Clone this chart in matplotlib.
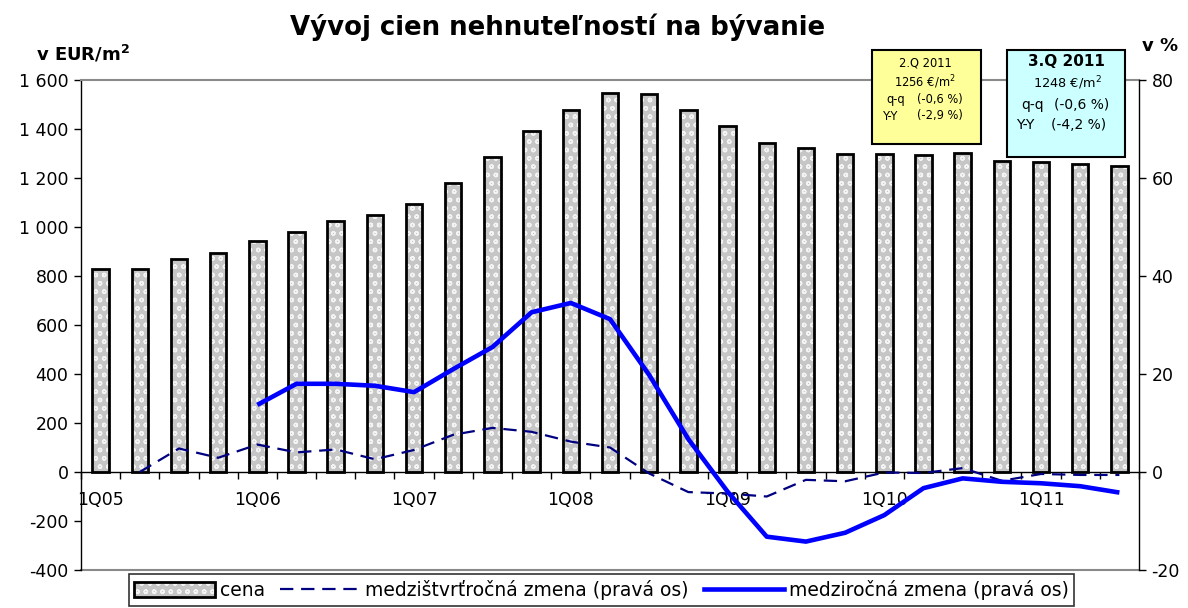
import matplotlib
matplotlib.use('Agg')
import matplotlib.pyplot as plt
import numpy as np
from matplotlib.patches import Patch, Rectangle
from matplotlib.lines import Line2D
from matplotlib.legend_handler import HandlerTuple
from matplotlib.ticker import FuncFormatter

quarters = ['1Q05', '2Q05', '3Q05', '4Q05', '1Q06', '2Q06', '3Q06', '4Q06',
            '1Q07', '2Q07', '3Q07', '4Q07', '1Q08', '2Q08', '3Q08', '4Q08',
            '1Q09', '2Q09', '3Q09', '4Q09', '1Q10', '2Q10', '3Q10', '4Q10',
            '1Q11', '2Q11', '3Q11']
price = [830, 828, 870, 895, 944, 978, 1024, 1049, 1095, 1179, 1285, 1390,
         1476, 1548, 1543, 1477, 1413, 1343, 1322, 1298, 1296, 1292, 1304,
         1270, 1265, 1256, 1248]
qoq = [np.nan, 0.0, 4.8, 2.9, 5.6, 4.0, 4.6, 2.6, 4.5, 7.6, 9.0, 8.2, 6.2,
       5.0, -0.3, -4.1, -4.4, -5.0, -1.6, -1.9, -0.1, -0.2, 0.8, -1.8, -0.4,
       -0.6, -0.6]
yoy = [np.nan, np.nan, np.nan, np.nan, 13.7, 18.0, 18.0, 17.6, 16.3, 21.0,
       25.5, 32.6, 34.5, 31.2, 19.8, 6.7, -4.0, -13.2, -14.2, -12.4, -8.8,
       -3.3, -1.3, -2.0, -2.3, -2.9, -4.2]
label_quarters = ['1Q05', '1Q06', '1Q07', '1Q08', '1Q09', '1Q10', '1Q11']

title = 'Vývoj cien nehnuteľností na bývanie'
left_label = 'v EUR/m$^\\mathbf{2}$'
right_label = 'v %'
legend_labels = ['cena', 'medzištvrťročná zmena (pravá os)',
                 'medziročná zmena (pravá os)']
box1_lines = ['2.Q 2011', '1256 €/m$^2$', 'q-q', '(-0,6 %)', 'Y-Y', '(-2,9 %)']
box2_lines = ['3.Q 2011', '1248 €/m$^2$', 'q-q', '(-0,6 %)', 'Y-Y', '(-4,2 %)']

plt.rcParams['font.family'] = ['DejaVu Sans']
plt.rcParams['hatch.linewidth'] = 1.0
plt.rcParams['axes.unicode_minus'] = False
plt.rcParams['mathtext.default'] = 'regular'

W, H = 1188, 608
fig = plt.figure(figsize=(W / 100, H / 100), dpi=100)
fig.patch.set_facecolor('white')


def fx(px):
    return px / W


def fy(py):
    return 1 - py / H


ax = fig.add_axes([fx(81), fy(570), fx(1139) - fx(81), fy(80) - fy(570)])
x = np.arange(len(quarters))

bar_face = '#c6c6c6'
ax.bar(x, price, width=0.42, color=bar_face, edgecolor='#f4f4f4', hatch='oo',
       linewidth=0, zorder=2)
ax.bar(x, price, width=0.42, facecolor='none', edgecolor='black',
       linewidth=2, zorder=3)
ax.set_xlim(-0.5, len(quarters) - 0.5)
ax.set_ylim(-400, 1600)

ax2 = ax.twinx()
ax2.set_ylim(-20, 80)
ax2.plot(x, qoq, color='#000080', lw=1.6, dashes=(6, 3.5), zorder=4)
ax2.plot(x, yoy, color='#0000ff', lw=3.3, solid_joinstyle='round',
         solid_capstyle='butt', zorder=5)

# spines
for s in ['top', 'bottom', 'left', 'right']:
    ax2.spines[s].set_visible(s == 'right')
ax2.spines['right'].set_color('black')
ax2.spines['right'].set_linewidth(1.0)
ax.spines['right'].set_visible(False)
ax.spines['top'].set_color('#8a8a8a')
ax.spines['top'].set_linewidth(1.5)
ax.spines['left'].set_color('black')
ax.spines['left'].set_linewidth(1.0)
ax.spines['bottom'].set_position(('data', 0))
ax.spines['bottom'].set_color('black')
ax.spines['bottom'].set_linewidth(1.0)
ax.plot([0, 1], [0, 0], transform=ax.transAxes, color='#8a8a8a', lw=1.5,
        clip_on=False, zorder=1)

# x ticks: marks at category boundaries, labels at first quarters
ax.set_xticks(np.arange(-0.5, len(quarters), 1.0))
ax.set_xticklabels([])
ax.tick_params(axis='x', which='major', direction='out', length=5,
               width=1, color='black')
lab_pos = [quarters.index(q) for q in label_quarters]
ax.set_xticks(lab_pos, minor=True)
ax.set_xticklabels(label_quarters, minor=True)
ax.tick_params(axis='x', which='minor', length=0, pad=14, labelsize=12.5)

# y ticks
ax.set_yticks(np.arange(-400, 1601, 200))
ax.yaxis.set_major_formatter(FuncFormatter(
    lambda v, p: f'{int(v):,}'.replace(',', ' ')))
ax.tick_params(axis='y', direction='out', length=5, width=1, labelsize=12.5,
               pad=4)
ax2.set_yticks(np.arange(-20, 81, 20))
ax2.tick_params(axis='y', direction='out', length=5, width=1, labelsize=12.5,
                pad=4)

# titles
fig.text(fx(558), fy(27), title, ha='center', va='center', fontsize=18.7,
         fontweight='bold')
fig.text(fx(36), fy(54), left_label, ha='left', va='center', fontsize=13,
         fontweight='bold')
fig.text(fx(1160), fy(46), right_label, ha='center', va='center',
         fontsize=13, fontweight='bold')

# info boxes
fig.patches.append(Rectangle((fx(872), fy(144)), fx(981) - fx(872),
                             fy(50) - fy(144), transform=fig.transFigure,
                             facecolor='#ffff99', edgecolor='black', lw=1.5,
                             zorder=6))
fig.patches.append(Rectangle((fx(1007), fy(157)), fx(1125) - fx(1007),
                             fy(50) - fy(157), transform=fig.transFigure,
                             facecolor='#ccffff', edgecolor='black', lw=1.5,
                             zorder=6))
fs1 = 8.3
fig.text(fx(925), fy(63), box1_lines[0], ha='center', va='center',
         fontsize=fs1, zorder=7)
fig.text(fx(925), fy(82), box1_lines[1], ha='center', va='center',
         fontsize=fs1, zorder=7)
fig.text(fx(886), fy(100), box1_lines[2], ha='left', va='center',
         fontsize=fs1, zorder=7)
fig.text(fx(917), fy(100), box1_lines[3], ha='left', va='center',
         fontsize=fs1, zorder=7)
fig.text(fx(883), fy(116), box1_lines[4], ha='left', va='center',
         fontsize=fs1, zorder=7)
fig.text(fx(917), fy(116), box1_lines[5], ha='left', va='center',
         fontsize=fs1, zorder=7)
fs2 = 10
fig.text(fx(1066), fy(62), box2_lines[0], ha='center', va='center',
         fontsize=11, fontweight='bold', zorder=7)
fig.text(fx(1067), fy(83), box2_lines[1], ha='center', va='center',
         fontsize=9.3, zorder=7)
fig.text(fx(1021), fy(105), box2_lines[2], ha='left', va='center',
         fontsize=fs2, zorder=7)
fig.text(fx(1054), fy(105), box2_lines[3], ha='left', va='center',
         fontsize=fs2, zorder=7)
fig.text(fx(1016), fy(125), box2_lines[4], ha='left', va='center',
         fontsize=fs2, zorder=7)
fig.text(fx(1051), fy(125), box2_lines[5], ha='left', va='center',
         fontsize=fs2, zorder=7)

# legend
bar_h = (Patch(facecolor=bar_face, edgecolor='#f4f4f4', hatch='oo', lw=0),
         Patch(facecolor='none', edgecolor='black', lw=2))
h_qoq = Line2D([], [], color='#000080', lw=1.6, dashes=(6, 3.5))
h_yoy = Line2D([], [], color='#0000ff', lw=3.3)
leg = fig.legend([bar_h, h_qoq, h_yoy], legend_labels, loc='center',
                 bbox_to_anchor=(fx(601.5), fy(590)), ncol=3, fontsize=13.5,
                 frameon=True, fancybox=False, edgecolor='black',
                 handlelength=4.3, handleheight=0.8, handletextpad=0.25,
                 columnspacing=0.8, borderpad=0.3, borderaxespad=0,
                 handler_map={tuple: HandlerTuple(ndivide=1)})
leg.get_frame().set_linewidth(1.2)

fig.savefig('out.png', dpi=100, facecolor='white')
